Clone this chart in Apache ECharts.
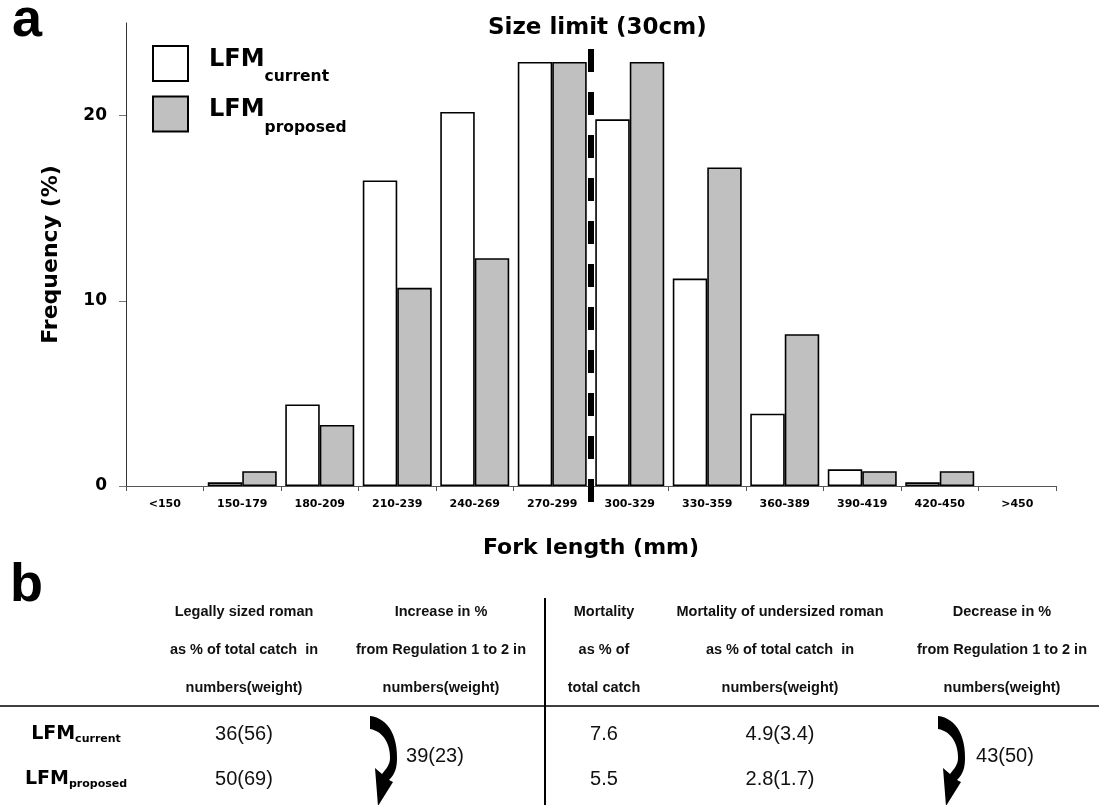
<!DOCTYPE html>
<html>
<head>
<meta charset="utf-8">
<script src="https://cdn.jsdelivr.net/npm/echarts@6/dist/echarts.min.js"></script>
<style>html,body{margin:0;padding:0;background:#fff}#c{width:1099px;height:805px}</style>
</head>
<body>
<div id="c"></div>
<script>
// ---- data ----
const categories = ['<150','150-179','180-209','210-239','240-269','270-299','300-329','330-359','360-389','390-419','420-450','>450'];
const lfmCurrent  = [0, 0.2, 4.4, 16.5, 20.2, 22.9, 19.8, 11.2, 3.9, 0.9, 0.2, 0];
const lfmProposed = [0, 0.8, 3.3, 10.7, 12.3, 22.9, 22.9, 17.2, 8.2, 0.8, 0.8, 0];
const seriesNames = ['LFMcurrent', 'LFMproposed'];
const yTicks = [0, 10, 20];
const sizeLimitMm = 300;           // 30 cm
const binEdgesMm = [120, 480];     // outer edges of the first and last bin
const sizeLimitLabel = 'Size limit (30cm)';

// table (panel b)
const rowLabels = ['current', 'proposed'];
const headerCols = [
  ['Legally sized roman', 'as % of total catch  in', 'numbers(weight)'],
  ['Increase in %', 'from Regulation 1 to 2 in', 'numbers(weight)'],
  ['Mortality', 'as % of', 'total catch'],
  ['Mortality of undersized roman', 'as % of total catch  in', 'numbers(weight)'],
  ['Decrease in %', 'from Regulation 1 to 2 in', 'numbers(weight)']
];
const legalSized = ['36(56)', '50(69)'];
const increaseLegal = '39(23)';
const mortality = ['7.6', '5.5'];
const undersizedMortality = ['4.9(3.4)', '2.8(1.7)'];
const decreaseUndersized = '43(50)';

// ---- layout ----
const BOLD = 'DejaVu Sans';
const TXT = 'Liberation Sans';
const colX = [76, 244, 441, 604, 780, 1002];
const headerY = [612, 650, 688];
const rowY = [734, 779];
const hLineY = 706;
const arrowX = [370, 938];
const arrowY = 716;

// curved arrow outline (local coords), sampled into a polygon
function cubic(p0, p1, p2, p3, n) {
  const pts = [];
  for (let i = 1; i <= n; i++) {
    const t = i / n, u = 1 - t;
    pts.push([
      u*u*u*p0[0] + 3*u*u*t*p1[0] + 3*u*t*t*p2[0] + t*t*t*p3[0],
      u*u*u*p0[1] + 3*u*u*t*p1[1] + 3*u*t*t*p2[1] + t*t*t*p3[1]
    ]);
  }
  return pts;
}
function arrowPoints(ox, oy) {
  let pts = [[0, 0]];
  pts = pts.concat(cubic([0,0],[16,2],[27,16],[27,42],14));
  pts = pts.concat(cubic([27,42],[27,52],[25,58],[19,64],8));
  pts.push([23, 66], [8, 90], [5, 52], [12, 58]);
  pts = pts.concat(cubic([12,58],[17,52],[20,48],[20,42],8));
  pts = pts.concat(cubic([20,42],[20,26],[12,15],[0,13],14));
  return pts.map(p => [p[0] + ox, p[1] + oy]);
}

const chart = echarts.init(document.getElementById('c'), null, {renderer: 'canvas'});

function barData(arr) {
  return arr.map(v => v === 0 ? {value: v, itemStyle: {borderWidth: 0}} : v);
}

const graphics = [];
graphics.push({type: 'text', style: {text: 'a', x: 12, y: 21, align: 'left', verticalAlign: 'middle',
  fontFamily: TXT, fontWeight: 'bold', fontSize: 54, fill: '#000'}});
graphics.push({type: 'text', style: {text: 'b', x: 10, y: 586, align: 'left', verticalAlign: 'middle',
  fontFamily: TXT, fontWeight: 'bold', fontSize: 54, fill: '#000'}});
headerCols.forEach((lines, ci) => {
  lines.forEach((t, li) => {
    graphics.push({type: 'text', style: {text: t, x: colX[ci + 1], y: headerY[li], align: 'center', verticalAlign: 'middle',
      fontFamily: TXT, fontWeight: 'bold', fontSize: 14.5, fill: '#111'}});
  });
});
graphics.push({type: 'line', shape: {x1: 0, y1: hLineY, x2: 1099, y2: hLineY}, style: {stroke: '#000', lineWidth: 1.5}});
graphics.push({type: 'line', shape: {x1: 545, y1: 598, x2: 545, y2: 805}, style: {stroke: '#000', lineWidth: 2}});
rowLabels.forEach((r, i) => {
  graphics.push({type: 'text', style: {text: '{m|LFM}{s|' + r + '}', x: colX[0], y: rowY[i], align: 'center', verticalAlign: 'middle',
    rich: {
      m: {fontFamily: BOLD, fontWeight: 'bold', fontSize: 19, fill: '#000'},
      s: {fontFamily: BOLD, fontWeight: 'bold', fontSize: 11, fill: '#000', padding: [10, 0, 0, 0]}
    }}});
});
function valText(t, x, y) {
  graphics.push({type: 'text', style: {text: t, x: x, y: y, align: 'center', verticalAlign: 'middle',
    fontFamily: TXT, fontSize: 20, fill: '#111'}});
}
legalSized.forEach((t, i) => valText(t, colX[1], rowY[i]));
mortality.forEach((t, i) => valText(t, colX[3], rowY[i]));
undersizedMortality.forEach((t, i) => valText(t, colX[4], rowY[i]));
valText(increaseLegal, 435, (rowY[0] + rowY[1]) / 2);
valText(decreaseUndersized, 1005, (rowY[0] + rowY[1]) / 2);
arrowX.forEach(ax => {
  graphics.push({type: 'polygon', shape: {points: arrowPoints(ax, arrowY)}, style: {fill: '#000'}});
});

const option = {
  animation: false,
  backgroundColor: '#fff',
  title: {
    text: sizeLimitLabel, left: 488, top: 17, padding: 0,
    textStyle: {fontFamily: BOLD, fontWeight: 'bold', fontSize: 23, color: '#000'}
  },
  legend: {
    data: seriesNames,
    orient: 'vertical', left: 152, top: 45, padding: 0,
    itemWidth: 35, itemHeight: 35, itemGap: 10.5,
    icon: 'rect',
    formatter: n => '{m|LFM}{s|' + n.slice(3) + '}',
    textStyle: {
      color: '#000',
      rich: {
        m: {fontFamily: BOLD, fontWeight: 'bold', fontSize: 24, color: '#000', padding: [0, 0, 8, 16]},
        s: {fontFamily: BOLD, fontWeight: 'bold', fontSize: 15.5, color: '#000', padding: [27, 0, 0, 0]}
      }
    }
  },
  grid: {left: 126, right: 43, top: 23, bottom: 319, containLabel: false},
  xAxis: [{
    type: 'category', data: categories,
    axisLine: {show: true, lineStyle: {color: '#555', width: 1}},
    axisTick: {show: true, interval: 0, length: 5, lineStyle: {color: '#555'}},
    axisLabel: {interval: 0, margin: 13, fontFamily: BOLD, fontWeight: 'bold', fontSize: 11, color: '#000'},
    name: 'Fork length (mm)', nameLocation: 'middle', nameGap: 51,
    nameTextStyle: {fontFamily: BOLD, fontWeight: 'bold', fontSize: 22, color: '#000'}
  }, {
    type: 'value', min: binEdgesMm[0], max: binEdgesMm[1], show: false
  }],
  yAxis: {
    type: 'value', min: 0, max: 25, interval: 10,
    splitLine: {show: false},
    axisLine: {show: true, lineStyle: {color: '#333', width: 1}},
    axisTick: {show: true, length: 7, lineStyle: {color: '#777'}, customValues: yTicks},
    axisLabel: {margin: 19, fontFamily: BOLD, fontWeight: 'bold', fontSize: 17, color: '#000', customValues: yTicks},
    name: 'Frequency (%)', nameLocation: 'middle', nameGap: 64,
    nameTextStyle: {fontFamily: BOLD, fontWeight: 'bold', fontSize: 22, color: '#000'}
  },
  series: [{
    name: seriesNames[0], type: 'bar', data: barData(lfmCurrent),
    barGap: '0%', barCategoryGap: '11%',
    itemStyle: {color: '#ffffff', borderColor: '#000', borderWidth: 1.6}
  }, {
    name: seriesNames[1], type: 'bar', data: barData(lfmProposed),
    barGap: '0%', barCategoryGap: '11%',
    itemStyle: {color: '#c0c0c0', borderColor: '#000', borderWidth: 1.6}
  }, {
    name: 'size limit', type: 'line', xAxisIndex: 1, clip: false, silent: true, z: 10,
    symbol: 'none',
    data: [[sizeLimitMm, 23.6], [sizeLimitMm, -0.92]],
    lineStyle: {color: '#000', width: 6, type: [23, 20]}
  }],
  graphic: graphics
};
chart.setOption(option);
</script>
</body>
</html>
